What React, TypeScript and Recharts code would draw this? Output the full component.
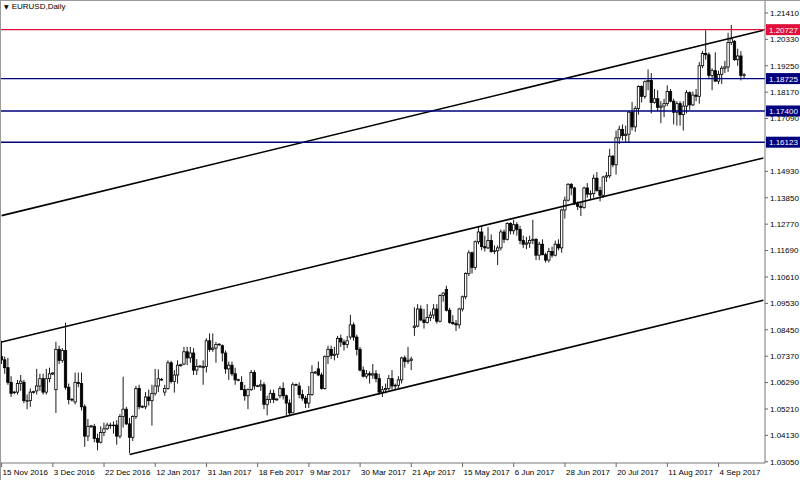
import { ComposedChart, Bar, XAxis, YAxis, ReferenceLine } from "recharts";

// EURUSD daily bars, 15 Nov 2016 .. 14 Sep 2017 (one row = 16 bars)
const opens = [
  1.0735, 1.0722, 1.069, 1.063, 1.0588, 1.059, 1.0625, 1.063, 1.0555, 1.0555, 1.0588, 1.0595, 1.0615, 1.0645, 1.059, 1.0645,
  1.0664, 1.06, 1.0765, 1.072, 1.076, 1.061, 1.0558, 1.055, 1.063, 1.0625, 1.053, 1.041, 1.0448, 1.045, 1.04, 1.0385,
  1.0425, 1.044, 1.0455, 1.0455, 1.0455, 1.041, 1.049, 1.052, 1.046, 1.0405, 1.049, 1.0605, 1.0528, 1.053, 1.057, 1.0555,
  1.0585, 1.0615, 1.0642, 1.059, 1.0605, 1.071, 1.0633, 1.066, 1.0698, 1.0705, 1.0755, 1.073, 1.075, 1.068, 1.0693, 1.069,
  1.0695, 1.08, 1.0765, 1.077, 1.0783, 1.078, 1.075, 1.0685, 1.07, 1.0665, 1.0638, 1.063, 1.06, 1.0575, 1.06, 1.067,
  1.0613, 1.0615, 1.062, 1.054, 1.056, 1.0585, 1.0558, 1.0575, 1.0605, 1.0575, 1.0545, 1.0505, 1.0618, 1.0615, 1.058, 1.0565,
  1.0545, 1.058, 1.0668, 1.0685, 1.066, 1.0605, 1.0735, 1.0765, 1.074, 1.0745, 1.081, 1.0795, 1.0785, 1.0815, 1.0865, 1.0815,
  1.0765, 1.068, 1.0655, 1.0665, 1.066, 1.0665, 1.0645, 1.059, 1.06, 1.0605, 1.0645, 1.0615, 1.0618, 1.064, 1.073, 1.0715,
  1.072, 1.0855, 1.086, 1.093, 1.0885, 1.0875, 1.0895, 1.0905, 1.093, 1.088, 1.0985, 1.101, 1.0925, 1.0875, 1.087, 1.0865,
  1.093, 1.098, 1.1075, 1.116, 1.11, 1.1205, 1.1245, 1.1185, 1.118, 1.121, 1.1165, 1.1168, 1.118, 1.1245, 1.1215, 1.128,
  1.125, 1.1275, 1.1255, 1.121, 1.1195, 1.12, 1.121, 1.1215, 1.115, 1.1195, 1.1152, 1.113, 1.1165, 1.115, 1.1195, 1.118,
  1.1335, 1.1375, 1.144, 1.1425, 1.136, 1.135, 1.1345, 1.1425, 1.14, 1.1402, 1.1465, 1.1415, 1.1395, 1.147, 1.1475, 1.1555,
  1.152, 1.163, 1.1665, 1.164, 1.1645, 1.1735, 1.1675, 1.175, 1.184, 1.18, 1.186, 1.1865, 1.1775, 1.179, 1.1755, 1.176,
  1.177, 1.182, 1.178, 1.1735, 1.177, 1.1725, 1.176, 1.1815, 1.1765, 1.1805, 1.18, 1.1925, 1.1975, 1.197, 1.1885, 1.1905,
  1.1862, 1.189, 1.1915, 1.192, 1.202, 1.2025, 1.195, 1.1965, 1.1885,
];

const highs = [
  1.08, 1.0735, 1.073, 1.0655, 1.0595, 1.064, 1.066, 1.064, 1.058, 1.0605, 1.0596, 1.0685, 1.0665, 1.0665, 1.0685, 1.069,
  1.0672, 1.0796, 1.078, 1.077, 1.0874, 1.0625, 1.0566, 1.067, 1.067, 1.067, 1.054, 1.048, 1.0456, 1.046, 1.042, 1.045,
  1.0465, 1.0465, 1.0465, 1.047, 1.0475, 1.05, 1.0653, 1.053, 1.0485, 1.0495, 1.0615, 1.062, 1.0536, 1.059, 1.06, 1.062,
  1.0685, 1.0683, 1.0648, 1.062, 1.072, 1.0718, 1.068, 1.072, 1.0706, 1.0775, 1.0775, 1.0775, 1.077, 1.0725, 1.07, 1.072,
  1.081, 1.083, 1.083, 1.0795, 1.079, 1.0785, 1.076, 1.0715, 1.0715, 1.069, 1.0645, 1.0655, 1.062, 1.0605, 1.068, 1.068,
  1.062, 1.064, 1.063, 1.0575, 1.06, 1.06, 1.0565, 1.0615, 1.063, 1.058, 1.056, 1.063, 1.0625, 1.063, 1.06, 1.0575,
  1.0615, 1.07, 1.0676, 1.0715, 1.067, 1.074, 1.078, 1.078, 1.0775, 1.082, 1.0825, 1.0805, 1.082, 1.0906, 1.0875, 1.0825,
  1.0775, 1.0695, 1.068, 1.0675, 1.0705, 1.068, 1.0665, 1.0615, 1.0625, 1.066, 1.068, 1.0625, 1.0655, 1.0735, 1.074, 1.0775,
  1.0735, 1.0937, 1.095, 1.0945, 1.093, 1.095, 1.092, 1.095, 1.095, 1.099, 1.0998, 1.1025, 1.0935, 1.0905, 1.0885, 1.0935,
  1.0985, 1.108, 1.117, 1.1165, 1.121, 1.1265, 1.1265, 1.123, 1.1265, 1.1235, 1.119, 1.119, 1.1255, 1.1255, 1.1285, 1.1285,
  1.1295, 1.1285, 1.127, 1.123, 1.1225, 1.123, 1.1295, 1.122, 1.1205, 1.1215, 1.116, 1.118, 1.1185, 1.121, 1.1215, 1.134,
  1.139, 1.1445, 1.1445, 1.143, 1.137, 1.1365, 1.143, 1.1445, 1.1415, 1.148, 1.149, 1.143, 1.1475, 1.149, 1.1585, 1.156,
  1.166, 1.168, 1.1685, 1.168, 1.174, 1.1777, 1.176, 1.1845, 1.1845, 1.1865, 1.191, 1.1895, 1.183, 1.1825, 1.178, 1.179,
  1.1845, 1.183, 1.179, 1.178, 1.178, 1.178, 1.1825, 1.182, 1.182, 1.183, 1.194, 1.1985, 1.207, 1.198, 1.1915, 1.198,
  1.1905, 1.1925, 1.1945, 1.206, 1.2092, 1.203, 1.1995, 1.1985, 1.1895,
];

const lows = [
  1.0705, 1.0665, 1.062, 1.057, 1.0582, 1.058, 1.0595, 1.0545, 1.052, 1.053, 1.0584, 1.058, 1.0595, 1.058, 1.058, 1.063,
  1.066, 1.0505, 1.0705, 1.071, 1.06, 1.054, 1.0552, 1.054, 1.061, 1.0515, 1.0366, 1.039, 1.0444, 1.0385, 1.0352, 1.038,
  1.041, 1.0435, 1.044, 1.042, 1.0375, 1.04, 1.0445, 1.0455, 1.034, 1.039, 1.048, 1.052, 1.0524, 1.052, 1.0535, 1.0453,
  1.0575, 1.059, 1.0636, 1.0575, 1.06, 1.0625, 1.0588, 1.0625, 1.0694, 1.07, 1.07, 1.071, 1.066, 1.066, 1.069, 1.062,
  1.067, 1.0755, 1.0755, 1.071, 1.078, 1.0715, 1.0665, 1.064, 1.0655, 1.062, 1.0634, 1.06, 1.0555, 1.052, 1.0595, 1.06,
  1.061, 1.0595, 1.052, 1.0495, 1.0545, 1.0545, 1.0555, 1.0565, 1.056, 1.0495, 1.0495, 1.0505, 1.0615, 1.0565, 1.0555, 1.0525,
  1.0525, 1.0575, 1.0664, 1.0655, 1.06, 1.06, 1.0705, 1.0725, 1.072, 1.073, 1.0775, 1.076, 1.077, 1.0805, 1.08, 1.074,
  1.0675, 1.065, 1.0645, 1.0625, 1.0645, 1.063, 1.058, 1.057, 1.0585, 1.0595, 1.06, 1.06, 1.0605, 1.0625, 1.069, 1.0705,
  1.068, 1.082, 1.0855, 1.088, 1.085, 1.087, 1.088, 1.089, 1.087, 1.0875, 1.096, 1.092, 1.087, 1.0865, 1.084, 1.085,
  1.092, 1.097, 1.1065, 1.1075, 1.109, 1.1195, 1.117, 1.1165, 1.1175, 1.116, 1.1155, 1.111, 1.117, 1.12, 1.121, 1.1235,
  1.1235, 1.123, 1.1195, 1.118, 1.1175, 1.118, 1.1195, 1.113, 1.113, 1.115, 1.112, 1.112, 1.114, 1.1145, 1.117, 1.116,
  1.13, 1.137, 1.1395, 1.1355, 1.1335, 1.131, 1.134, 1.1385, 1.138, 1.1385, 1.141, 1.137, 1.1385, 1.145, 1.1465, 1.151,
  1.148, 1.1605, 1.162, 1.161, 1.161, 1.166, 1.1655, 1.1725, 1.1775, 1.179, 1.1825, 1.173, 1.177, 1.174, 1.169, 1.1715,
  1.176, 1.1775, 1.1685, 1.168, 1.168, 1.166, 1.173, 1.1745, 1.176, 1.178, 1.177, 1.1915, 1.195, 1.187, 1.1825, 1.186,
  1.185, 1.185, 1.1895, 1.19, 1.201, 1.1945, 1.1925, 1.1865, 1.1875,
];

const closes = [
  1.0722, 1.069, 1.063, 1.0585, 1.059, 1.0625, 1.0635, 1.0555, 1.0555, 1.059, 1.0592, 1.0615, 1.0645, 1.059, 1.0645, 1.0665,
  1.0668, 1.0765, 1.072, 1.076, 1.061, 1.056, 1.056, 1.063, 1.0625, 1.053, 1.041, 1.045, 1.0452, 1.04, 1.0385, 1.0425,
  1.044, 1.0455, 1.0455, 1.0455, 1.041, 1.049, 1.052, 1.046, 1.0405, 1.049, 1.0605, 1.053, 1.0532, 1.057, 1.0555, 1.0585,
  1.0615, 1.0645, 1.064, 1.0605, 1.071, 1.0633, 1.066, 1.07, 1.0702, 1.0755, 1.073, 1.075, 1.068, 1.0695, 1.0697, 1.0695,
  1.08, 1.0765, 1.077, 1.0785, 1.0786, 1.075, 1.0685, 1.07, 1.0665, 1.064, 1.0641, 1.06, 1.0575, 1.06, 1.067, 1.0615,
  1.0616, 1.062, 1.054, 1.056, 1.0585, 1.056, 1.0562, 1.0605, 1.0575, 1.0545, 1.0505, 1.062, 1.0621, 1.058, 1.0565, 1.0545,
  1.058, 1.067, 1.0672, 1.066, 1.0605, 1.0735, 1.0765, 1.074, 1.0745, 1.081, 1.0795, 1.0785, 1.08, 1.0865, 1.0815, 1.0765,
  1.068, 1.0655, 1.0665, 1.066, 1.0665, 1.0645, 1.059, 1.06, 1.0605, 1.0645, 1.0615, 1.0618, 1.064, 1.073, 1.0715, 1.072,
  1.0725, 1.086, 1.093, 1.0885, 1.0875, 1.0895, 1.0905, 1.093, 1.088, 1.0985, 1.0995, 1.0925, 1.0875, 1.087, 1.0865, 1.093,
  1.098, 1.1075, 1.116, 1.11, 1.1205, 1.1245, 1.1185, 1.118, 1.121, 1.1165, 1.1168, 1.118, 1.1245, 1.1215, 1.128, 1.125,
  1.1275, 1.1255, 1.121, 1.1195, 1.12, 1.121, 1.1215, 1.115, 1.1195, 1.1152, 1.113, 1.1165, 1.115, 1.1195, 1.118, 1.1335,
  1.1375, 1.144, 1.1425, 1.136, 1.135, 1.1345, 1.1425, 1.14, 1.1402, 1.1465, 1.1415, 1.1395, 1.147, 1.1475, 1.1555, 1.152,
  1.163, 1.1665, 1.164, 1.1645, 1.1735, 1.1675, 1.175, 1.184, 1.18, 1.186, 1.1865, 1.1775, 1.179, 1.1755, 1.176, 1.177,
  1.182, 1.178, 1.1735, 1.177, 1.1725, 1.176, 1.1815, 1.1765, 1.1805, 1.18, 1.1925, 1.1975, 1.197, 1.1885, 1.1905, 1.1862,
  1.189, 1.1915, 1.192, 1.202, 1.2035, 1.195, 1.1965, 1.1885, 1.1888,
];

// empty slots on the right (chart shift)
const SHIFT = 6;

const dateTicks = [0, 16, 32, 48, 64, 80, 96, 112, 128, 144, 160, 176, 192, 208, 224];
const dateLabels = [
  "15 Nov 2016", "3 Dec 2016", "22 Dec 2016", "12 Jan 2017", "31 Jan 2017", "18 Feb 2017", "9 Mar 2017",
  "30 Mar 2017", "21 Apr 2017", "15 May 2017", "6 Jun 2017", "28 Jun 2017", "20 Jul 2017", "11 Aug 2017", "4 Sep 2017",
];

const priceTicks = [
  1.0305, 1.0413, 1.0521, 1.0629, 1.0737, 1.0845, 1.0953, 1.1061, 1.1169, 1.1277, 1.1385, 1.1493,
  1.1709, 1.1817, 1.1925, 1.2033, 1.2141,
];

const levels = [
  { value: 1.20727, color: "#e0103c" },
  { value: 1.18725, color: "#00007f" },
  { value: 1.174, color: "#00007f" },
  { value: 1.16123, color: "#00007f" },
];

// trend channel: [startBar, startPrice, endBar, endPrice]
const channel = [
  [0, 1.1312, 238, 1.207],
  [0, 1.0795, 238, 1.1548],
  [40, 1.0335, 238, 1.0966],
];

const data = Array.from({ length: opens.length + SHIFT }, (_, i) =>
  i < opens.length
    ? { i, o: opens[i], h: highs[i], l: lows[i], c: closes[i], range: [lows[i], highs[i]] }
    : { i, range: null }
);

const FONT = "'Liberation Sans', Arial, sans-serif";

const Candle = (props: any) => {
  const { x, y, width, height, payload } = props;
  if (!payload || payload.o == null) return null;
  const { o, h, l, c } = payload;
  const top = Math.min(y, y + height);
  const bot = Math.max(y, y + height);
  const span = h - l;
  const py = (v: number) => (span > 0 ? top + ((h - v) / span) * (bot - top) : top);
  const cx = x + width / 2;
  const yo = py(o);
  const yc = py(c);
  const bodyTop = Math.min(yo, yc);
  const bodyH = Math.max(Math.abs(yo - yc), 0.6);
  const up = c >= o;
  return (
    <g>
      <line x1={cx} x2={cx} y1={top} y2={bot} stroke="#000" strokeWidth={0.9} />
      <rect
        x={cx - 1.2}
        y={bodyTop}
        width={2.4}
        height={bodyH}
        fill={up ? "#fff" : "#000"}
        stroke="#000"
        strokeWidth={0.8}
      />
    </g>
  );
};

const DateTick = (props: any) => {
  const { x, y, payload } = props;
  const k = dateTicks.indexOf(payload.value);
  return (
    <g>
      <line x1={x} x2={x} y1={y} y2={y + 4} stroke="#666" strokeWidth={1} />
      <text x={x + 1} y={y + 12} fontSize={8} fontFamily={FONT} fill="#000">
        {k >= 0 ? dateLabels[k] : ""}
      </text>
    </g>
  );
};

const PriceTag = (props: any) => {
  const { viewBox, value, color } = props;
  if (!viewBox) return null;
  const right = viewBox.x + viewBox.width;
  return (
    <g>
      <rect x={right + 1} y={viewBox.y - 5.5} width={34} height={11} fill={color} />
      <text x={right + 4} y={viewBox.y + 3} fontSize={8} fontFamily={FONT} fill="#fff">
        {value.toFixed(5)}
      </text>
    </g>
  );
};

export default function App() {
  return (
    <div style={{ position: "fixed", left: 0, top: 0, width: 800, height: 480, background: "#fff" }}>
      <ComposedChart width={800} height={480} data={data} margin={{ top: 0, right: 0, bottom: 0, left: 0 }}>
        <XAxis
          dataKey="i"
          type="category"
          ticks={dateTicks}
          interval={0}
          tick={<DateTick />}
          tickLine={false}
          tickSize={0}
          tickMargin={0}
          height={17}
          axisLine={{ stroke: "#777" }}
        />
        <YAxis
          orientation="right"
          domain={[1.03, 1.2194]}
          allowDataOverflow
          ticks={priceTicks}
          interval={0}
          width={35}
          tickSize={3}
          tickMargin={2}
          axisLine={{ stroke: "#777" }}
          tickLine={{ stroke: "#666" }}
          tick={{ fontSize: 8, fontFamily: FONT, fill: "#000" }}
          tickFormatter={(v: number) => v.toFixed(5)}
        />
        {channel.map((s, k) => (
          <ReferenceLine
            key={"ch" + k}
            segment={[
              { x: s[0], y: s[1] },
              { x: s[2], y: s[3] },
            ]}
            stroke="#000"
            strokeWidth={1.6}
          />
        ))}
        {levels.map((lv) => (
          <ReferenceLine
            key={lv.value}
            y={lv.value}
            stroke={lv.color}
            strokeWidth={1.4}
            label={<PriceTag value={lv.value} color={lv.color} />}
          />
        ))}
        <Bar dataKey="range" barSize={3} shape={<Candle />} isAnimationActive={false} />
      </ComposedChart>
      <div
        style={{
          position: "absolute",
          left: 4,
          top: 2,
          fontFamily: FONT,
          fontSize: 8,
          color: "#000",
          whiteSpace: "nowrap",
        }}
      >
        <span style={{ fontSize: 6, marginRight: 3, fontFamily: "'DejaVu Sans', sans-serif" }}>▼</span>
        EURUSD,Daily
      </div>
      <div
        style={{
          position: "absolute",
          left: 0,
          top: 0,
          width: 800,
          height: 480,
          borderTop: "1px solid #999",
          borderLeft: "1px solid #999",
          boxSizing: "border-box",
          pointerEvents: "none",
        }}
      />
    </div>
  );
}
